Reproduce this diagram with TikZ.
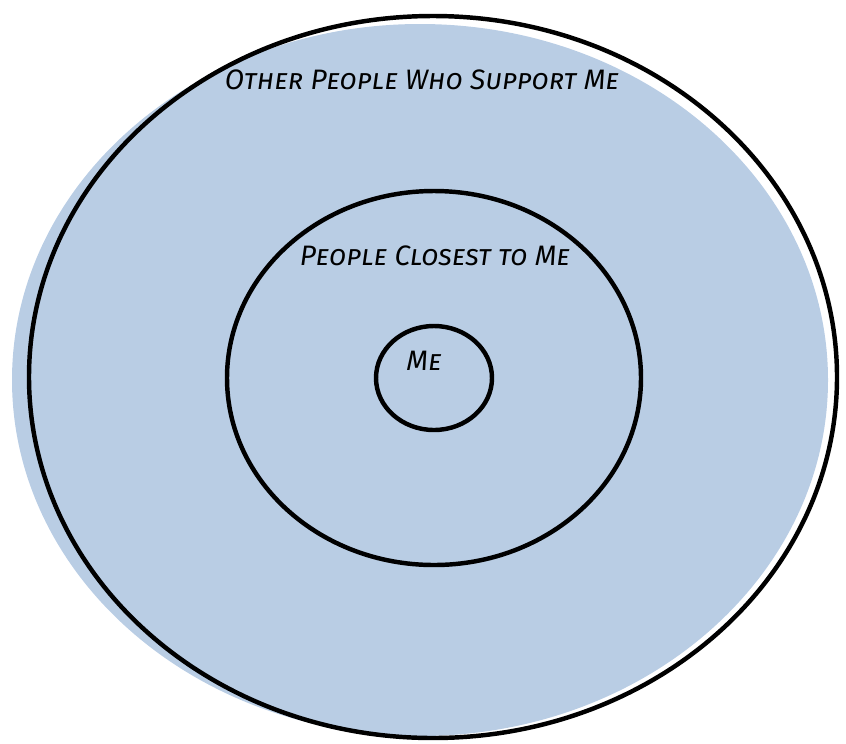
\documentclass[tikz,border=0pt]{standalone}
\usepackage{fontspec}
\newfontfamily\brushfont{Fira Sans}[Letters=SmallCaps]
\definecolor{ringblue}{RGB}{185,205,228}
\usetikzlibrary{positioning,shapes.geometric}

\begin{document}
\begin{tikzpicture}[
  x=0.03cm, y=-0.03cm,
  every node/.style={inner sep=0pt},
  ring/.style={draw=black,ellipse,line width=3.8pt},
  ringlabel/.style={font=\brushfont\itshape\fontsize{24}{26}\selectfont,text=black},
]
  \useasboundingbox (0,0) rectangle (846,743);

  % Blue area (slightly offset from the outer outline)
  \node[ellipse,fill=ringblue,minimum width=816*0.03cm,minimum height=712*0.03cm]
    (shade) at (420,380) {};

  % Rings
  \node[ring,minimum width=808*0.03cm,minimum height=722*0.03cm] (outerring) at (433,377) {};
  \node[ring,minimum width=414*0.03cm,minimum height=374*0.03cm] (midring) at (434,378) {};
  \node[ring,minimum width=116*0.03cm,minimum height=104*0.03cm] (innerring) at (434,378) {};

  % Labels
  \node[ringlabel] (outerlabel) at (422,80) {Other People Who Support Me};
  \node[ringlabel] (midlabel) at (435,256) {People Closest to Me};
  \node[ringlabel] (innerlabel) at (424,361) {Me};
\end{tikzpicture}
\end{document}
